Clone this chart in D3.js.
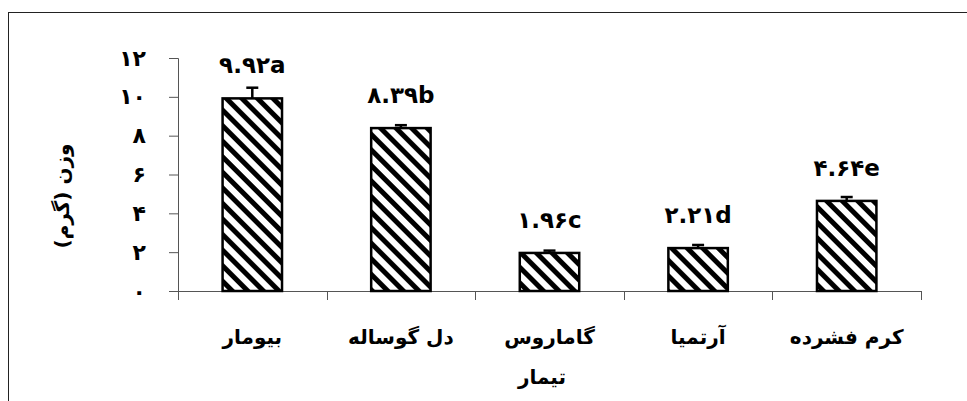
<!DOCTYPE html>
<html><head><meta charset="utf-8">
<script src="https://cdn.jsdelivr.net/npm/d3@7"></script>
<style>html,body{margin:0;padding:0;background:#fff;}svg{display:block;}</style>
</head><body>
<svg id="chart" width="967" height="401"></svg>
<script>
const categories = ["بیومار", "دل گوساله", "گاماروس", "آرتمیا", "کرم فشرده"];
const values = [9.92, 8.39, 1.96, 2.21, 4.64];
const errors = [0.55, 0.15, 0.12, 0.16, 0.20];
const valueLabels = ["۹.۹۲a", "۸.۳۹b", "۱.۹۶c", "۲.۲۱d", "۴.۶۴e"];
const yTicks = [0, 2, 4, 6, 8, 10, 12];
const yTickLabels = ["۰", "۲", "۴", "۶", "۸", "۱۰", "۱۲"];
const yTitle = "وزن (گرم)";
const xTitle = "تیمار";

const svg = d3.select("#chart");
const font = "'DejaVu Sans', sans-serif";

// outer border (extends past the window right/bottom)
svg.append("rect").attr("x", 8.5).attr("y", 12.5).attr("width", 1000).attr("height", 500)
  .attr("fill", "none").attr("stroke", "#222").attr("stroke-width", 1);

// hatch pattern (top-left to bottom-right stripes)
const defs = svg.append("defs");
const pat = defs.append("pattern").attr("id", "hatch").attr("patternUnits", "userSpaceOnUse")
  .attr("width", 11).attr("height", 11).attr("patternTransform", "rotate(-45)");
pat.append("rect").attr("width", 11).attr("height", 11).attr("fill", "#fff");
pat.append("line").attr("x1", 0).attr("y1", 0).attr("x2", 0).attr("y2", 11)
  .attr("stroke", "#000").attr("stroke-width", 10);

const x = d3.scaleBand().domain(categories).range([178, 921]).paddingInner(0.6).paddingOuter(0.3);
const xb = d3.scaleBand().domain(categories).range([178, 921]);
const y = d3.scaleLinear().domain([0, 12]).range([291, 58]);

// y axis
const yAxis = svg.append("g").attr("transform", "translate(178,0)")
  .call(d3.axisLeft(y).tickValues(yTicks).tickSize(9).tickFormat((d, i) => yTickLabels[i]));
yAxis.select(".domain").attr("stroke", "#555");
yAxis.selectAll(".tick line").attr("stroke", "#555");
yAxis.selectAll(".tick text").attr("font-family", font).attr("font-weight", "bold")
  .attr("font-size", 22).attr("fill", "#000").attr("x", -32);

// x axis line and category ticks
svg.append("line").attr("x1", 178).attr("x2", 921).attr("y1", 291.5).attr("y2", 291.5)
  .attr("stroke", "#555");
const bounds = categories.map(c => xb(c)).concat([xb.range()[1]]);
svg.selectAll(".xtick").data(bounds).join("line").attr("class", "xtick")
  .attr("x1", d => Math.round(d) + 0.5).attr("x2", d => Math.round(d) + 0.5)
  .attr("y1", 291).attr("y2", 300).attr("stroke", "#555");

// bars
svg.selectAll(".bar").data(values).join("rect").attr("class", "bar")
  .attr("x", (d, i) => x(categories[i])).attr("width", x.bandwidth())
  .attr("y", d => y(d)).attr("height", d => y(0) - y(d))
  .attr("fill", "url(#hatch)").attr("stroke", "#000").attr("stroke-width", 2.5);

// error bars
const eg = svg.selectAll(".err").data(values).join("g").attr("class", "err");
eg.append("line")
  .attr("x1", (d, i) => x(categories[i]) + x.bandwidth() / 2)
  .attr("x2", (d, i) => x(categories[i]) + x.bandwidth() / 2)
  .attr("y1", d => y(d)).attr("y2", (d, i) => y(d + errors[i]))
  .attr("stroke", "#000").attr("stroke-width", 2.5);
eg.append("line")
  .attr("x1", (d, i) => x(categories[i]) + x.bandwidth() / 2 - 6)
  .attr("x2", (d, i) => x(categories[i]) + x.bandwidth() / 2 + 6)
  .attr("y1", (d, i) => y(d + errors[i])).attr("y2", (d, i) => y(d + errors[i]))
  .attr("stroke", "#000").attr("stroke-width", 2.5);

// value labels
svg.selectAll(".vl").data(values).join("text").attr("class", "vl")
  .attr("x", (d, i) => x(categories[i]) + x.bandwidth() / 2)
  .attr("y", d => y(d) - 33).attr("dy", "0.35em")
  .attr("text-anchor", "middle").attr("font-family", font).attr("font-weight", "bold")
  .attr("font-size", 23).text((d, i) => valueLabels[i]);

// category labels
svg.selectAll(".cl").data(categories).join("text").attr("class", "cl")
  .attr("x", d => xb(d) + xb.bandwidth() / 2).attr("y", 337).attr("dy", "0.35em")
  .attr("text-anchor", "middle").attr("direction", "rtl")
  .attr("font-family", font).attr("font-weight", "bold").attr("font-size", 20).text(d => d);

// x title
svg.append("text").attr("x", 542).attr("y", 377).attr("dy", "0.35em")
  .attr("text-anchor", "middle").attr("direction", "rtl")
  .attr("font-family", font).attr("font-weight", "bold").attr("font-size", 20).text(xTitle);

// y title
svg.append("text").attr("transform", "translate(62,196) rotate(-90)").attr("dy", "0.35em")
  .attr("text-anchor", "middle").attr("direction", "rtl")
  .attr("font-family", font).attr("font-weight", "bold").attr("font-size", 20).text(yTitle);
</script>
</body></html>
